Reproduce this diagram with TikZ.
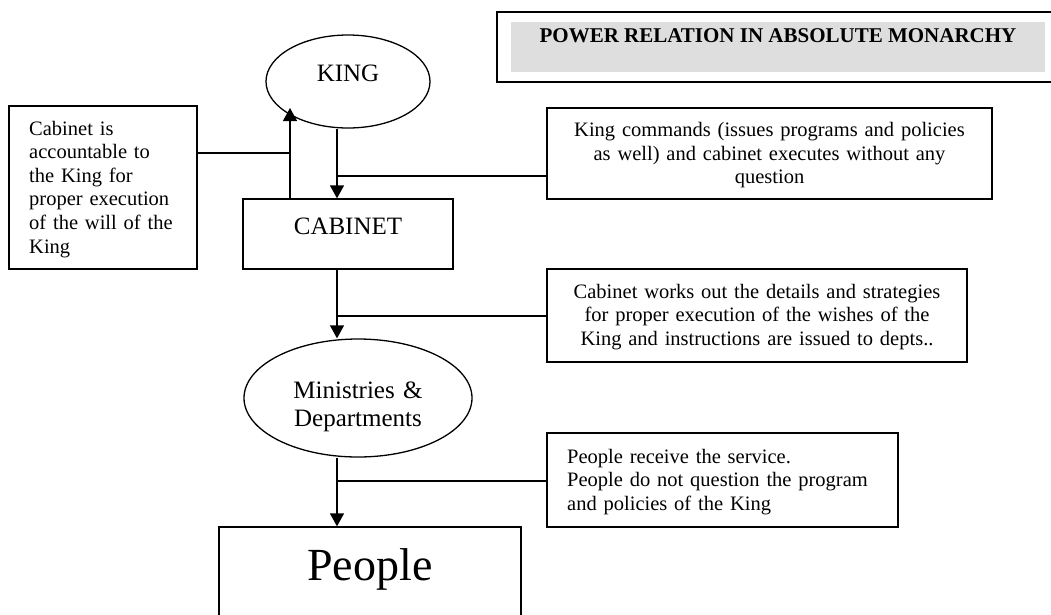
\documentclass[tikz,border=0pt]{standalone}
\usepackage{fontspec}
\setmainfont{Liberation Serif}
\usetikzlibrary{shapes.geometric,arrows.meta}
\definecolor{titlegrey}{RGB}{222,222,222}
\begin{document}
\begin{tikzpicture}[x=1pt,y=-1pt,
  box/.style={draw, line width=1.3pt, rectangle, inner sep=0pt},
  oval/.style={draw, line width=1.3pt, ellipse, inner sep=0pt},
  txt/.style={inner sep=0pt, font=\fontsize{20.5}{23.6}\selectfont},
  big/.style={inner sep=0pt, font=\fontsize{25}{28.5}\selectfont},
  conn/.style={line width=1.3pt},
  arr/.style={line width=1.3pt, -{Triangle[length=13pt,width=14pt]}},
]
\useasboundingbox (0,0) rectangle (1051,614);
\fill[white] (0,0) rectangle (1051,614);
\clip (0,0) rectangle (1051,614);

% title
\node[draw, line width=2pt, minimum width=568pt, minimum height=70pt, inner sep=0pt] (titlebox) at (781,47) {};
\node[fill=titlegrey, minimum width=534pt, minimum height=50pt, inner sep=0pt] (titlefill) at (778,47) {};
\node[inner sep=0pt, anchor=base, font=\fontsize{21}{24}\selectfont\bfseries] (title) at (778,42) {POWER RELATION IN ABSOLUTE MONARCHY};

% King
\node[oval, minimum width=164pt, minimum height=93pt] (king) at (348,81.5) {};
\node[big, anchor=base] (kingtxt) at (348,81) {KING};

% left note
\node[box, minimum width=188pt, minimum height=163pt] (acc) at (103,187.5) {};
\node[txt, anchor=base west, text width=165pt, align=left] (acctxt) at (29,135)
  {Cabinet is\\accountable to\\the King for\\proper execution\\of the will of the\\King};

% King commands note
\node[box, minimum width=445pt, minimum height=91pt] (cmd) at (769.5,153.5) {};
\node[txt, anchor=base, text width=440pt, align=center] (cmdtxt) at (769.5,136.5)
  {King commands (issues programs and policies\\as well) and cabinet executes without any\\question};

% Cabinet
\node[box, minimum width=210pt, minimum height=70pt] (cab) at (348,234) {};
\node[big, anchor=base] (cabtxt) at (348,234) {CABINET};

% Cabinet works note
\node[box, minimum width=420pt, minimum height=93pt] (work) at (757,315.5) {};
\node[txt, anchor=base, text width=415pt, align=center] (worktxt) at (757,298)
  {Cabinet works out the details and strategies\\for proper execution of the wishes of the\\King and instructions are issued to depts..};

% Ministries
\node[oval, minimum width=228pt, minimum height=118pt] (min) at (358,398) {};
\node[big, anchor=base, text width=200pt, align=center] (mintxt) at (358,398) {Ministries \&\\Departments};

% People receive note
\node[box, minimum width=351pt, minimum height=94pt] (serv) at (722.5,480) {};
\node[txt, anchor=base west, text width=325pt, align=left] (servtxt) at (567,463)
  {People receive the service.\\People do not question the program\\and policies of the King};

% People
\node[box, minimum width=302pt, minimum height=113pt] (ppl) at (370,583.5) {};
\node[inner sep=0pt, anchor=base, font=\fontsize{46}{52}\selectfont] (ppltxt) at (370,580) {People};

% connectors
\coordinate (kingin) at (290,108);
\coordinate (dx) at (337,0);
\coordinate (j1) at (290,153);
\coordinate (j2) at (337,176);
\coordinate (j3) at (337,316);
\coordinate (j4) at (337,481);

\draw[arr] (cab.north -| kingin) -- (kingin);
\draw[conn] (acc.east |- j1) -- (j1);
\draw[arr] (king.south -| dx) -- (cab.north -| dx);
\draw[conn] (j2) -- (cmd.west |- j2);
\draw[arr] (cab.south -| dx) -- (min.north -| dx);
\draw[conn] (j3) -- (work.west |- j3);
\draw[arr] (min.south -| dx) -- (ppl.north -| dx);
\draw[conn] (j4) -- (serv.west |- j4);
\end{tikzpicture}
\end{document}
